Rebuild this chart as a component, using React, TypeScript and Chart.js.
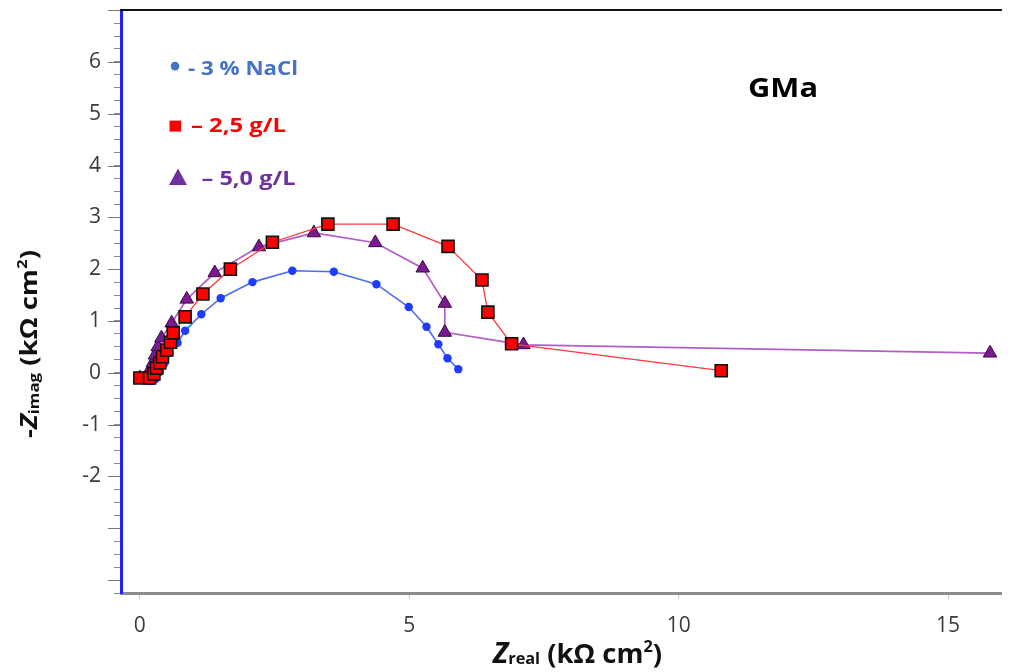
import React, { useEffect, useRef } from 'react';
import { Chart, registerables } from 'chart.js';

Chart.register(...registerables);

// ---- data (kΩ cm²) ----
const naclX = [0.15, 0.22, 0.29, 0.37, 0.46, 0.55, 0.70, 0.84, 1.14, 1.50, 2.09, 2.83, 3.60, 4.39, 4.99, 5.32, 5.54, 5.71, 5.91];
const naclY = [-0.16, -0.16, -0.12, 0.02, 0.19, 0.38, 0.58, 0.81, 1.13, 1.44, 1.75, 1.97, 1.95, 1.71, 1.27, 0.89, 0.55, 0.28, 0.07];

const g25X = [0.00, 0.18, 0.26, 0.31, 0.37, 0.42, 0.50, 0.57, 0.62, 0.84, 1.17, 1.68, 2.46, 3.49, 4.70, 5.72, 6.35, 6.46, 6.90, 10.79];
const g25Y = [-0.10, -0.10, -0.02, 0.09, 0.19, 0.31, 0.44, 0.59, 0.77, 1.08, 1.52, 2.00, 2.52, 2.87, 2.87, 2.44, 1.79, 1.17, 0.56, 0.04];

const g50X = [0.00, 0.13, 0.18, 0.24, 0.28, 0.33, 0.40, 0.59, 0.87, 1.39, 2.21, 3.23, 4.37, 5.25, 5.66, 5.66, 7.12, 15.78];
const g50Y = [-0.10, -0.06, 0.05, 0.19, 0.34, 0.50, 0.67, 0.96, 1.42, 1.93, 2.43, 2.70, 2.51, 2.02, 1.34, 0.78, 0.54, 0.38];

const xTickLabels = [0, 5, 10, 15];
const yTickLabels = [-2, -1, 0, 1, 2, 3, 4, 5, 6];
const seriesLabels = ['- 3 % NaCl', '\u2013 2,5 g/L', '\u2013 5,0 g/L'];
const panelTitle = 'GMa';

const FONT = '"Open Sans", "Noto Sans", sans-serif';

const toPoints = (xs: number[], ys: number[]) => xs.map((x, i) => ({ x, y: ys[i] }));

type Part = { t: string; font: string; dy?: number };

function drawParts(ctx: CanvasRenderingContext2D, parts: Part[], x: number, y: number, targetWidth: number, align: 'left' | 'center') {
  let total = 0;
  const widths = parts.map((p) => {
    ctx.font = p.font;
    const w = ctx.measureText(p.t).width;
    total += w;
    return w;
  });
  const sx = targetWidth > 0 ? targetWidth / total : 1;
  ctx.save();
  ctx.translate(x, y);
  ctx.scale(sx, 1);
  ctx.textAlign = 'left';
  ctx.textBaseline = 'alphabetic';
  let cx = align === 'center' ? -total / 2 : 0;
  parts.forEach((p, i) => {
    ctx.font = p.font;
    ctx.fillText(p.t, cx, p.dy || 0);
    cx += widths[i];
  });
  ctx.restore();
}

const decorPlugin = {
  id: 'decor',
  afterDraw(chart: any) {
    const ctx: CanvasRenderingContext2D = chart.ctx;
    const area = chart.chartArea;
    const yScale = chart.scales.y;
    ctx.save();

    // top frame line
    ctx.strokeStyle = '#111';
    ctx.lineWidth = 2;
    ctx.beginPath();
    ctx.moveTo(area.left - 1, area.top);
    ctx.lineTo(area.right, area.top);
    ctx.stroke();

    // longer major ticks on the y axis
    ctx.strokeStyle = '#777';
    ctx.lineWidth = 1;
    for (let v = Math.ceil(yScale.min); v <= Math.floor(yScale.max); v++) {
      const py = Math.round(yScale.getPixelForValue(v)) + 0.5;
      ctx.beginPath();
      ctx.moveTo(area.left - 13, py);
      ctx.lineTo(area.left - 1, py);
      ctx.stroke();
    }

    // legend
    const L = area.left;
    const T = area.top;
    ctx.fillStyle = '#4472C4';
    ctx.beginPath();
    ctx.arc(L + 54, T + 56, 4.3, 0, Math.PI * 2);
    ctx.fill();
    drawParts(ctx, [{ t: seriesLabels[0], font: `bold 19px ${FONT}` }], L + 67, T + 65, 110, 'left');
    ctx.fillStyle = '#ff0000';
    ctx.fillRect(L + 48.5, T + 110.5, 11.5, 11);
    drawParts(ctx, [{ t: seriesLabels[1], font: `bold 19px ${FONT}` }], L + 70, T + 121.5, 95, 'left');
    ctx.fillStyle = '#7030A0';
    ctx.beginPath();
    ctx.moveTo(L + 57, T + 158.5);
    ctx.lineTo(L + 66, T + 175);
    ctx.lineTo(L + 48, T + 175);
    ctx.closePath();
    ctx.fill();
    drawParts(ctx, [{ t: seriesLabels[2], font: `bold 19px ${FONT}` }], L + 80.5, T + 175, 94, 'left');

    // panel title
    ctx.fillStyle = '#000';
    drawParts(ctx, [{ t: panelTitle, font: `bold 26px ${FONT}` }], 748, 96.5, 70, 'left');

    // x axis title
    ctx.fillStyle = '#111';
    drawParts(
      ctx,
      [
        { t: 'Z', font: `italic bold 28px ${FONT}` },
        { t: 'real', font: `bold 16px ${FONT}`, dy: 1 },
        { t: ' (k\u03A9 cm', font: `bold 27px ${FONT}` },
        { t: '2', font: `bold 16px ${FONT}`, dy: -11 },
        { t: ')', font: `bold 27px ${FONT}` },
      ],
      (493 + 662) / 2,
      663,
      169,
      'center'
    );

    // y axis title
    ctx.save();
    ctx.translate(37, 344);
    ctx.rotate(-Math.PI / 2);
    drawParts(
      ctx,
      [
        { t: '-', font: `bold 23px ${FONT}` },
        { t: 'Z', font: `italic bold 23px ${FONT}` },
        { t: 'imag', font: `bold 14px ${FONT}`, dy: 2 },
        { t: ' (k\u03A9 cm', font: `bold 23px ${FONT}` },
        { t: '2', font: `bold 14px ${FONT}`, dy: -10 },
        { t: ')', font: `bold 23px ${FONT}` },
      ],
      0,
      0,
      188,
      'center'
    );
    ctx.restore();

    ctx.restore();
  },
};

export default function App() {
  const canvasRef = useRef<HTMLCanvasElement | null>(null);

  useEffect(() => {
    if (!canvasRef.current) return;
    const chart = new Chart(canvasRef.current, {
      type: 'scatter',
      data: {
        datasets: [
          {
            label: seriesLabels[1],
            data: toPoints(g25X, g25Y),
            showLine: true,
            borderColor: '#ff3b3b',
            borderWidth: 1.3,
            pointStyle: 'rect',
            pointRadius: 8.5,
            pointHoverRadius: 8.5,
            pointBackgroundColor: '#ff0000',
            pointBorderColor: '#111111',
            pointBorderWidth: 1.6,
          },
          {
            label: seriesLabels[2],
            data: toPoints(g50X, g50Y),
            showLine: true,
            borderColor: '#b45cc8',
            borderWidth: 1.7,
            pointStyle: 'triangle',
            pointRadius: 7.8,
            pointHoverRadius: 7.8,
            pointBackgroundColor: '#7b1a8e',
            pointBorderColor: '#3a0848',
            pointBorderWidth: 1,
          },
          {
            label: seriesLabels[0],
            data: toPoints(naclX, naclY),
            showLine: true,
            borderColor: '#4d6cf6',
            borderWidth: 1.6,
            pointStyle: 'circle',
            pointRadius: 4.2,
            pointHoverRadius: 4.2,
            pointBackgroundColor: '#1e3cff',
            pointBorderColor: '#1e3cff',
            pointBorderWidth: 0,
          },
        ],
      },
      options: {
        animation: false,
        responsive: true,
        maintainAspectRatio: false,
        layout: { padding: { top: 10, right: 0, left: 0, bottom: 0 } },
        plugins: {
          legend: { display: false },
          tooltip: { enabled: false },
          title: { display: false },
        },
        scales: {
          x: {
            type: 'linear',
            min: -0.35,
            max: 16.0,
            afterFit: (scale: any) => {
              scale.height = 79;
              scale.paddingLeft = 0;
              scale.paddingRight = 0;
            },
            ticks: {
              stepSize: 5,
              includeBounds: false,
              autoSkip: false,
              maxRotation: 0,
              padding: 14,
              color: '#3a3a3a',
              font: { family: FONT, size: 21 },
              callback: (v: any) => (xTickLabels.includes(Number(v)) ? String(v) : ''),
            },
            grid: {
              drawOnChartArea: false,
              drawTicks: true,
              tickLength: 6,
              color: '#c8c8c8',
            },
            border: { color: '#8c8c8c', width: 3 },
          },
          y: {
            type: 'linear',
            min: -4.25,
            max: 7,
            afterFit: (scale: any) => {
              scale.width = 121;
              scale.paddingTop = 0;
              scale.paddingBottom = 0;
            },
            ticks: {
              stepSize: 0.25,
              includeBounds: false,
              autoSkip: false,
              padding: 13,
              color: '#3a3a3a',
              font: { family: FONT, size: 21 },
              callback: (v: any) => (yTickLabels.includes(Number(v)) ? String(v) : ''),
            },
            grid: {
              drawOnChartArea: false,
              drawTicks: true,
              tickLength: 7,
              color: '#8a8a8a',
            },
            border: { color: '#1f1fff', width: 3 },
          },
        },
      },
      plugins: [decorPlugin],
    });
    return () => chart.destroy();
  }, []);

  return (
    <div style={{ position: 'fixed', left: 0, top: 0, width: 1012, height: 672, background: '#fff' }}>
      <canvas ref={canvasRef} />
    </div>
  );
}
